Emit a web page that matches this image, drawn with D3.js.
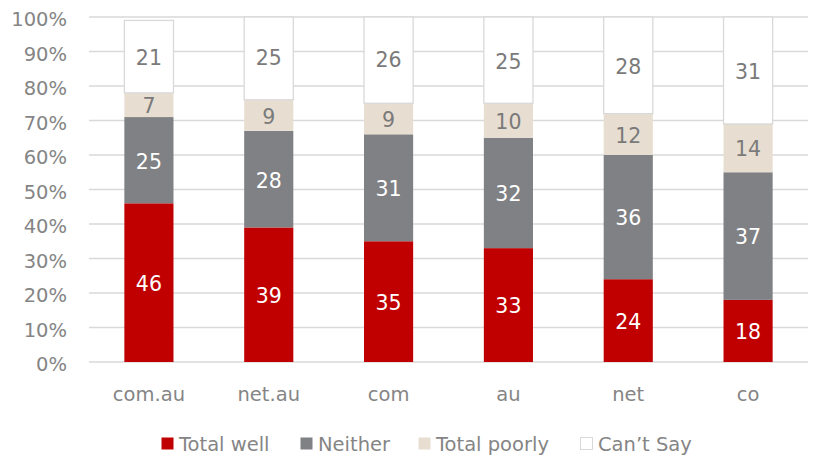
<!DOCTYPE html>
<html>
<head>
<meta charset="utf-8">
<script src="https://cdn.jsdelivr.net/npm/d3@7"></script>
<style>
  body { margin: 0; background: #fff; }
  text { font-family: "DejaVu Sans", "Liberation Sans", sans-serif; }
</style>
</head>
<body>
<script>
// Chart data
const categories = ["com.au", "net.au", "com", "au", "net", "co"];
const seriesNames = ["Total well", "Neither", "Total poorly", "Can\u2019t Say"];
const totalWell = [46, 39, 35, 33, 24, 18];
const neither = [25, 28, 31, 32, 36, 37];
const totalPoorly = [7, 9, 9, 10, 12, 14];
const cantSay = [21, 25, 26, 25, 28, 31];
const yTicks = [0, 10, 20, 30, 40, 50, 60, 70, 80, 90, 100];

const width = 815, height = 455;
const margin = { top: 17, right: 7, bottom: 93, left: 89 };
const plotWidth = width - margin.left - margin.right;
const plotHeight = height - margin.top - margin.bottom;

const fills = ["#C00000", "#808184", "#E7DED1", "#FFFFFF"];
const strokes = ["none", "none", "none", "#D9D9D9"];
const labelColors = ["#FFFFFF", "#FFFFFF", "#7A7A7A", "#7A7A7A"];
const textColor = "#858585";

const svg = d3.select("body")
    .append("svg")
    .attr("width", width)
    .attr("height", height);

const g = svg.append("g")
    .attr("transform", `translate(${margin.left},${margin.top})`);

const x = d3.scaleBand()
    .domain(categories)
    .range([0, plotWidth])
    .paddingInner(0.59)
    .paddingOuter(0.295);

const y = d3.scaleLinear()
    .domain([0, 100])
    .range([plotHeight, 0]);

// Gridlines
g.append("g")
    .selectAll("line")
    .data(yTicks)
    .join("line")
    .attr("x1", 0)
    .attr("x2", plotWidth)
    .attr("y1", d => y(d))
    .attr("y2", d => y(d))
    .attr("stroke", "#D9D9D9")
    .attr("stroke-width", 1.4);

// Y axis labels
const yAxis = g.append("g")
    .call(d3.axisLeft(y).tickValues(yTicks).tickFormat(d => d + "%").tickSize(0).tickPadding(22));
yAxis.select(".domain").remove();
yAxis.selectAll("text")
    .attr("fill", textColor)
    .attr("dy", "0.45em")
    .style("font-size", "19.5px");

// Stack the series
const rows = categories.map((c, i) => ({
    cat: c,
    [seriesNames[0]]: totalWell[i],
    [seriesNames[1]]: neither[i],
    [seriesNames[2]]: totalPoorly[i],
    [seriesNames[3]]: cantSay[i]
}));
const stacked = d3.stack().keys(seriesNames)(rows);

stacked.forEach((layer, k) => {
    const lg = g.append("g");
    lg.selectAll("rect")
        .data(layer)
        .join("rect")
        .attr("x", d => x(d.data.cat))
        .attr("width", x.bandwidth())
        .attr("y", d => y(Math.min(d[1], 100)))
        .attr("height", d => y(d[0]) - y(Math.min(d[1], 100)))
        .attr("fill", fills[k])
        .attr("stroke", strokes[k])
        .attr("stroke-width", 1.3);
    lg.selectAll("text")
        .data(layer)
        .join("text")
        .attr("x", d => x(d.data.cat) + x.bandwidth() / 2)
        .attr("y", d => y((d[0] + d[1]) / 2) + 1)
        .attr("dy", "0.36em")
        .attr("text-anchor", "middle")
        .attr("fill", labelColors[k])
        .style("font-size", "20.5px")
        .text(d => d[1] - d[0]);
});

// X axis labels
const xAxis = g.append("g")
    .attr("transform", `translate(0,${plotHeight})`)
    .call(d3.axisBottom(x).tickSize(0).tickPadding(25));
xAxis.select(".domain").remove();
xAxis.selectAll("text")
    .attr("fill", textColor)
    .style("font-size", "19.5px");

// Legend
const legendX = [161, 300, 418, 580];
const legend = svg.append("g")
    .selectAll("g")
    .data(seriesNames)
    .join("g")
    .attr("transform", (d, i) => `translate(${legendX[i]},443.5)`);
legend.append("rect")
    .attr("x", 0.5)
    .attr("y", -6)
    .attr("width", 12)
    .attr("height", 12)
    .attr("fill", (d, i) => fills[i])
    .attr("stroke", (d, i) => strokes[i]);
legend.append("text")
    .attr("x", 18)
    .attr("y", 7.5)
    .attr("fill", textColor)
    .style("font-size", "19.5px")
    .text(d => d);
</script>
</body>
</html>
